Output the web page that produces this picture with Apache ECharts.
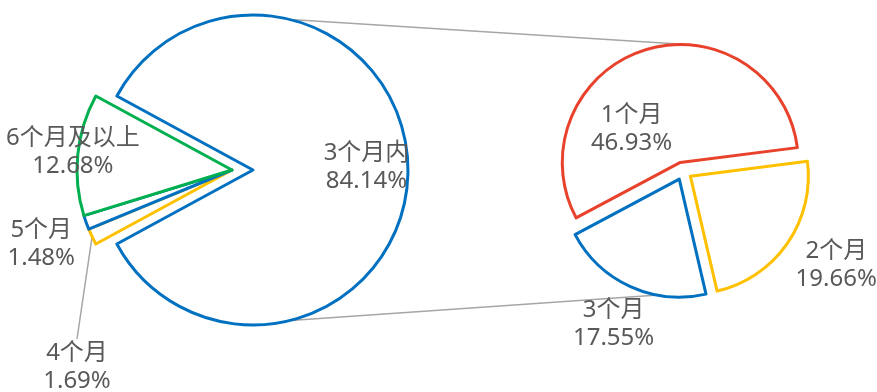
<!DOCTYPE html>
<html>
<head>
<meta charset="utf-8">
<script src="https://cdn.jsdelivr.net/npm/echarts@6/dist/echarts.min.js"></script>
<style>
  html, body { margin: 0; padding: 0; background: #fff; }
  #chart { width: 877px; height: 392px; }
</style>
</head>
<body>
<div id="chart"></div>
<script>
// 主饼图
const mainNames = ['3个月内', '4个月', '5个月', '6个月及以上'];
const mainValues = [84.14, 1.69, 1.48, 12.68];
const mainColors = ['#0070C0', '#FFC000', '#0070C0', '#00B050'];
// 子饼图：3个月内拆开
const subNames = ['1个月', '2个月', '3个月'];
const subValues = [46.93, 19.66, 17.55];
const subColors = ['#E8412C', '#FFC000', '#0070C0'];

const chart = echarts.init(document.getElementById('chart'));

const leftCenter = [253, 170];
const leftR = 155;
const groupShift = 21;
const rightCenter = [683, 171];
const rightR = 118;

const total = mainValues.reduce((a, b) => a + b, 0);
const restAngle = (total - mainValues[0]) / total * 360;
const leftStart = 180 - restAngle / 2;

const font = {
  fontFamily: "'Noto Sans', 'Noto Sans CJK SC', sans-serif",
  fontSize: 24,
  lineHeight: 28,
  color: '#595959'
};
const fmt = p => p.name + '\n' + p.value.toFixed(2) + '%';

function polar(c, r, deg) {
  const a = deg * Math.PI / 180;
  return [c[0] + r * Math.cos(a), c[1] - r * Math.sin(a)];
}

// label tweaks
const mainLabelPos = {0: {dx: 33, dy: -3}};
const restLabelPos = {
  1: {x: 77, y: 367, align: 'center', verticalAlign: 'middle'},
  2: {dx: -115, dy: 47},
  3: {dx: -79, dy: -10}
};
const subLabelPos = {0: {dx: -30, dy: 26}, 1: {dx: 95, dy: 54}, 2: {dx: -40, dy: 89}};

const hidden = {color: 'rgba(0,0,0,0)', borderWidth: 0};

const t1 = polar(leftCenter, leftR, 76), t2 = polar(rightCenter, rightR + 9, 92);
const b1 = polar(leftCenter, leftR, -76), b2 = polar(rightCenter, rightR + 5, -93);

let option = {
  animation: false,
  graphic: {
    elements: [
      {type: 'line', silent: true, z: 0, shape: {x1: t1[0], y1: t1[1], x2: t2[0], y2: t2[1]}, style: {stroke: '#A6A6A6', lineWidth: 1.5}},
      {type: 'line', silent: true, z: 0, shape: {x1: b1[0], y1: b1[1], x2: b2[0], y2: b2[1]}, style: {stroke: '#A6A6A6', lineWidth: 1.5}}
    ]
  },
  series: [
    {
      name: 'main',
      type: 'pie',
      silent: true,
      center: leftCenter,
      radius: leftR,
      startAngle: leftStart,
      emphasis: {disabled: true},
      label: Object.assign({show: true, position: 'inside', formatter: fmt}, font),
      labelLine: {show: false},
      labelLayout: p => mainLabelPos[p.dataIndex] || {},
      data: mainNames.map((n, i) => ({
        name: n,
        value: mainValues[i],
        itemStyle: i === 0 ? {color: '#fff', borderColor: mainColors[i], borderWidth: 3} : hidden,
        label: {show: i === 0}
      }))
    },
    {
      name: 'rest',
      type: 'pie',
      silent: true,
      center: [leftCenter[0] - groupShift, leftCenter[1]],
      radius: leftR,
      startAngle: leftStart,
      avoidLabelOverlap: false,
      emphasis: {disabled: true},
      label: Object.assign({show: true, position: 'inside', formatter: fmt}, font),
      labelLine: {show: false},
      labelLayout: p => restLabelPos[p.dataIndex] || {},
      data: mainNames.map((n, i) => {
        const item = {
          name: n,
          value: mainValues[i],
          itemStyle: i === 0 ? hidden : {color: '#fff', borderColor: mainColors[i], borderWidth: 3},
          label: {show: i !== 0}
        };
        if (i === 1) {
          item.label.position = 'outside';
          item.labelLine = {show: true, length: 8, length2: 0, lineStyle: {color: '#A6A6A6', width: 1.5}};
        }
        return item;
      })
    },
    {
      name: 'sub',
      type: 'pie',
      silent: true,
      center: rightCenter,
      radius: rightR,
      startAngle: 208,
      selectedMode: 'multiple',
      selectedOffset: 9,
      emphasis: {disabled: true},
      label: Object.assign({show: true, position: 'inside', formatter: fmt}, font),
      labelLine: {show: false},
      labelLayout: p => subLabelPos[p.dataIndex] || {},
      data: subNames.map((n, i) => ({
        name: n,
        value: subValues[i],
        selected: true,
        itemStyle: {color: '#fff', borderColor: subColors[i], borderWidth: 3}
      }))
    }
  ]
};

chart.setOption(option);
</script>
</body>
</html>
